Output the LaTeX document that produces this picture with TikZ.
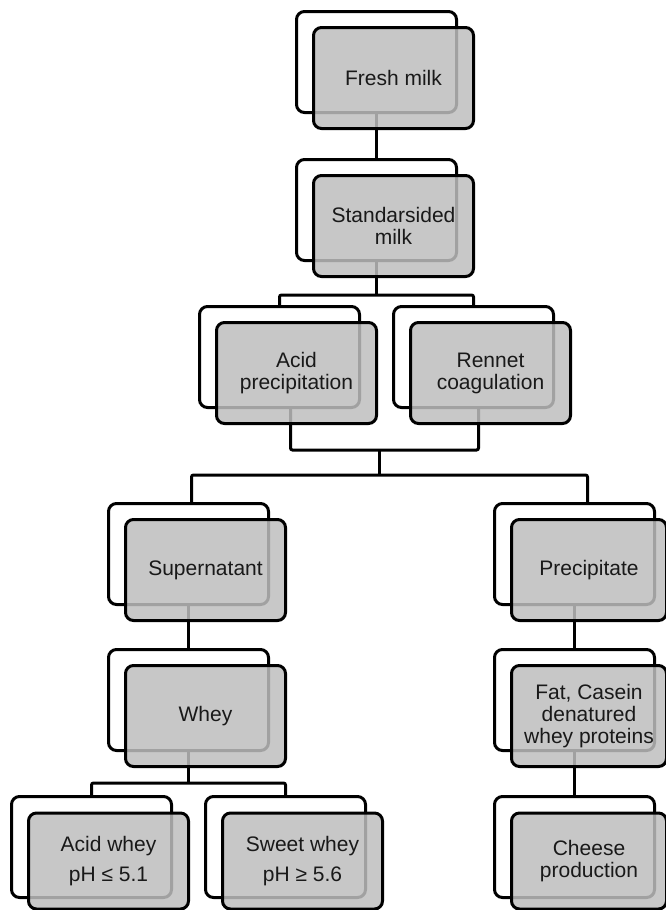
\documentclass[tikz,border=0pt]{standalone}
\usepackage{fontspec}
\setmainfont{Liberation Sans}
\usetikzlibrary{positioning, calc}
\definecolor{boxgray}{RGB}{190,190,190}
\definecolor{textgray}{RGB}{25,25,25}

\begin{document}
\begin{tikzpicture}[
    x=1pt, y=-1pt,
    backbox/.style={rectangle, draw=black, line width=3pt, fill=white, rounded corners=8pt, minimum width=160pt, minimum height=101pt, anchor=north west, inner sep=0pt},
    frontbox/.style={rectangle, draw=black, line width=3pt, fill=boxgray, fill opacity=0.85, text opacity=1, rounded corners=8pt, minimum width=160pt, minimum height=101pt, align=center, font=\fontsize{21}{22}\selectfont, text=textgray},
    link/.style={draw=black, line width=3pt, rounded corners=2pt}
]
\useasboundingbox (0,0) rectangle (666,910);

% Back frames
\node[backbox] (fresh-b) at (295,10) {};
\node[backbox] (stand-b) at (295,158) {};
\node[backbox] (acid-b) at (198,305) {};
\node[backbox] (rennet-b) at (392,305) {};
\node[backbox] (super-b) at (107,502) {};
\node[backbox] (prec-b) at (493,502) {};
\node[backbox] (whey-b) at (107,648) {};
\node[backbox] (fat-b) at (493,648) {};
\node[backbox] (awhey-b) at (10,795) {};
\node[backbox] (swhey-b) at (204,795) {};
\node[backbox] (cheese-b) at (493,795) {};

% Connectors
\draw[link] (fresh-b.south) -- (stand-b.north);
\draw[link] (stand-b.south) -- ++(0,33) coordinate (split1);
\draw[link] (acid-b.north) |- (split1) -| (rennet-b.north);
\coordinate (merge1) at ($(stand-b.south)+(3,188)$);
\draw[link] ($(acid-b.south)+(11,0)$) |- (merge1) -| ($(rennet-b.south)+(5,0)$);
\draw[link] (merge1) -- ++(0,25) coordinate (split2);
\draw[link] ($(super-b.north)+(3,0)$) |- (split2) -| ($(prec-b.north)+(13,0)$);
\draw[link] (super-b.south) -- (whey-b.north);
\draw[link] (whey-b.south) -- ++(0,31) coordinate (split3);
\draw[link] (awhey-b.north) |- (split3) -| (swhey-b.north);
\draw[link] (prec-b.south) -- (fat-b.north);
\draw[link] (fat-b.south) -- (cheese-b.north);

% Front boxes
\node[frontbox] (fresh) at ($(fresh-b.center)+(17,16)$) {Fresh milk};
\node[frontbox] (stand) at ($(stand-b.center)+(17,16)$) {Standarsided\\milk};
\node[frontbox] (acid) at ($(acid-b.center)+(17,16)$) {Acid\\precipitation};
\node[frontbox] (rennet) at ($(rennet-b.center)+(17,16)$) {Rennet\\coagulation};
\node[frontbox] (super) at ($(super-b.center)+(17,16)$) {Supernatant};
\node[frontbox, minimum width=155pt] (prec) at ($(prec-b.center)+(14.5,16)$) {Precipitate};
\node[frontbox] (whey) at ($(whey-b.center)+(17,16)$) {Whey};
\node[frontbox, minimum width=155pt] (fat) at ($(fat-b.center)+(14.5,16)$) {Fat, Casein\\denatured\\whey proteins};
\node[frontbox, minimum height=96pt] (awhey) at ($(awhey-b.center)+(17,14)$) {Acid whey\\[8pt]pH ≤ 5.1};
\node[frontbox, minimum height=96pt] (swhey) at ($(swhey-b.center)+(17,14)$) {Sweet whey\\[8pt]pH ≥ 5.6};
\node[frontbox, minimum width=155pt, minimum height=96pt] (cheese) at ($(cheese-b.center)+(14.5,14)$) {Cheese\\production};

\end{tikzpicture}
\end{document}
